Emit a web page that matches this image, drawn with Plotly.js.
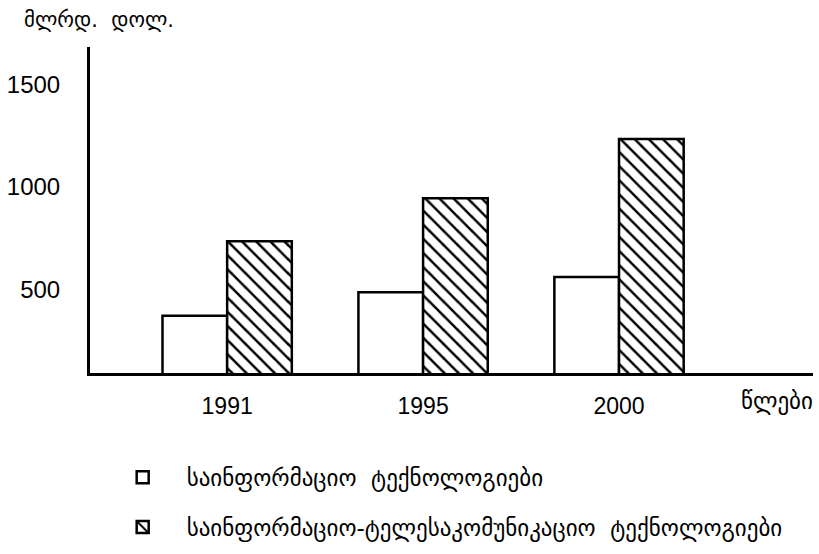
<!DOCTYPE html>
<html>
<head>
<meta charset="utf-8">
<script src="https://cdn.plot.ly/plotly-3.0.1.min.js"></script>
<style>html,body{margin:0;padding:0;background:#fff;}#chart{width:819px;height:554px;}</style>
</head>
<body>
<div id="chart"></div>
<script>
const years = ['1991', '1995', '2000'];
const infoTech = [370, 485, 560];
const infoTelecomTech = [735, 945, 1235];
const seriesNames = ['საინფორმაციო  ტექნოლოგიები', 'საინფორმაციო-ტელესაკომუნიკაციო  ტექნოლოგიები'];
const yTicks = [500, 1000, 1500];
const yUnit = 'მლრდ.  დოლ.';
const xUnit = 'წლები';

const numFont = 'Liberation Sans, Arial, sans-serif';
const geoFont = 'DejaVu Sans, sans-serif';

const traces = [
  {
    type: 'bar', x: years, y: infoTech, name: seriesNames[0], legendgroup: 'a',
    marker: {color: '#ffffff', line: {color: '#000000', width: 2.5}},
    hoverinfo: 'x+y'
  },
  {
    type: 'bar', x: years, y: infoTelecomTech, name: seriesNames[1], legendgroup: 'b',
    marker: {color: '#ffffff', line: {color: '#000000', width: 2.5},
      pattern: {shape: '\\', size: 10, solidity: 0.25, fgcolor: '#000000', bgcolor: '#ffffff'}},
    hoverinfo: 'x+y'
  }
];

const layout = {
  width: 819, height: 554,
  margin: {l: 90, r: 6, t: 47, b: 180},
  paper_bgcolor: '#ffffff', plot_bgcolor: '#ffffff',
  barmode: 'group', bargap: 0.34, bargroupgap: 0,
  showlegend: true,
  legend: {
    x: 0.012, xanchor: 'left', y: -0.25, yanchor: 'top',
    font: {family: geoFont, size: 23, color: '#000'},
    tracegroupgap: 17, traceorder: 'grouped', itemwidth: 78,
    bgcolor: 'rgba(0,0,0,0)'
  },
  xaxis: {
    type: 'category', range: [-0.70, 2.99],
    showline: true, linecolor: '#000', linewidth: 3,
    showgrid: false, zeroline: false, ticks: '',
    ticklabelstandoff: 10,
    tickfont: {family: numFont, size: 23, color: '#000'}
  },
  yaxis: {
    range: [90, 1685],
    showline: true, linecolor: '#000', linewidth: 3,
    showgrid: false, zeroline: false, ticks: '',
    tickvals: yTicks, ticktext: yTicks.map(String),
    ticklabelstandoff: 22,
    tickfont: {family: numFont, size: 24, color: '#000'}
  },
  annotations: [
    {text: yUnit, xref: 'paper', yref: 'paper', x: -0.094, y: 1.083,
     xanchor: 'left', yanchor: 'middle', showarrow: false,
     font: {family: geoFont, size: 21, color: '#000'}},
    {text: xUnit, xref: 'paper', yref: 'paper', x: 1.003, y: -0.086,
     xanchor: 'right', yanchor: 'middle', showarrow: false,
     font: {family: geoFont, size: 23, color: '#000'}}
  ]
};

Plotly.newPlot('chart', traces, layout, {displayModeBar: false, staticPlot: true});
</script>
</body>
</html>
